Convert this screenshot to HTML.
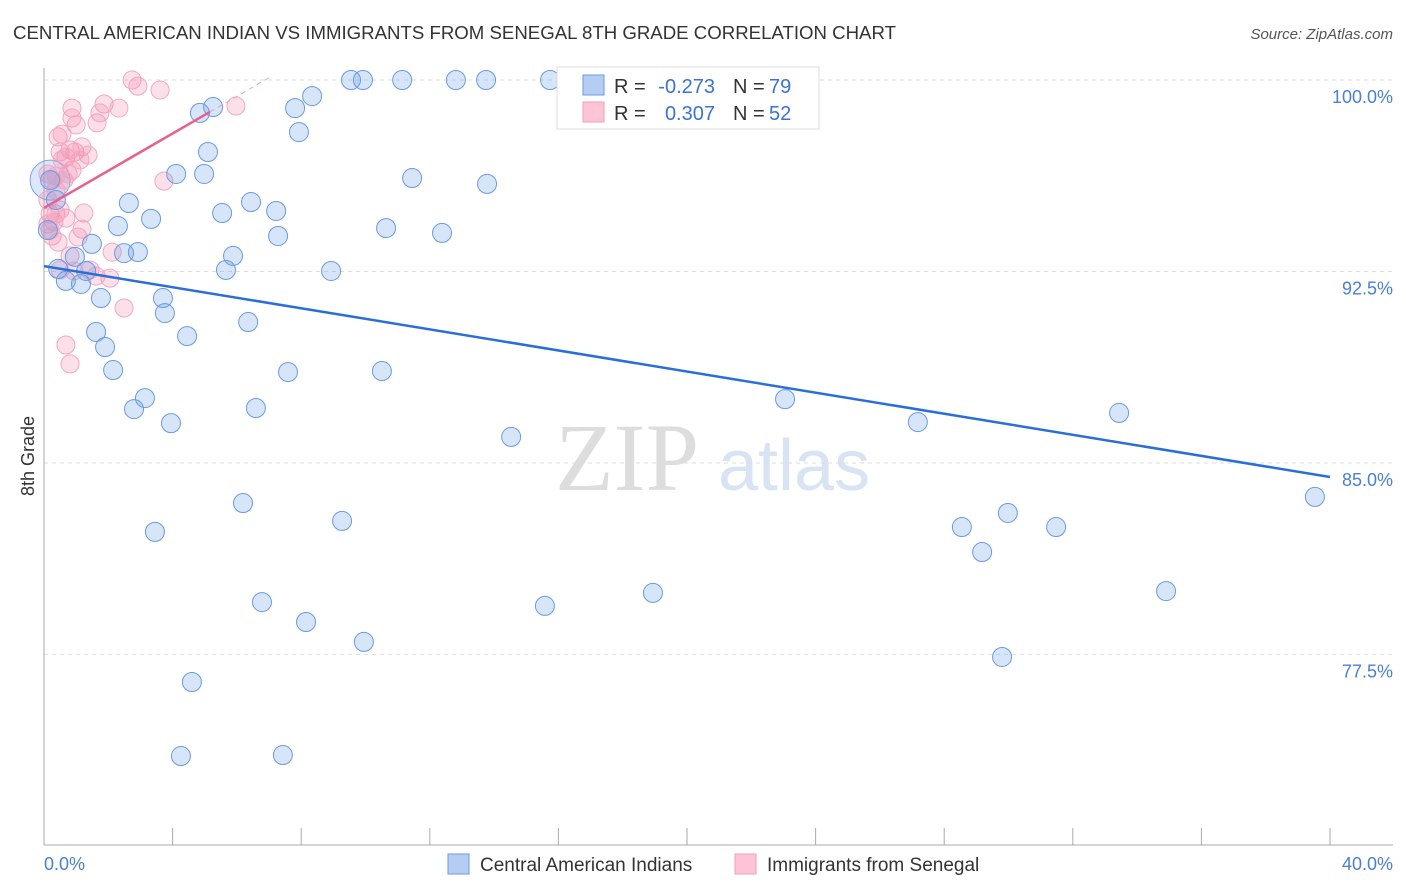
<!DOCTYPE html>
<html><head><meta charset="utf-8"><style>
body{margin:0;background:#fff;font-family:"Liberation Sans",sans-serif;}
svg{display:block}
</style></head><body>
<svg id="chart" width="1406" height="892"></svg>
<script>
const blueX=[9.55,9.92,11.14,12.81,13.75,15.74,17.45,18.16,22.27,16.98,5.26,4.85,7.81,8.34,7.93,5.10,4.11,4.98,11.45,13.78,2.64,6.44,5.54,7.22,3.33,2.30,10.64,12.38,7.28,1.49,2.49,2.92,5.88,0.96,5.66,8.93,0.44,0.68,1.15,1.31,1.77,3.70,3.76,6.35,1.62,4.45,1.90,2.15,7.59,10.51,3.14,2.80,6.59,3.95,14.53,23.05,27.18,33.44,39.53,6.19,3.45,9.27,28.55,29.98,31.48,29.18,34.90,18.94,15.58,6.78,8.15,9.95,29.80,4.60,4.26,7.43,0.19,0.12,0.37];
const blueY=[100,100,100,100,100,100,100,100,100,100,98.94,98.71,98.90,99.37,97.96,97.18,96.32,96.32,96.16,95.93,95.18,95.22,94.79,94.87,94.56,94.28,94.20,94.01,93.89,93.58,93.22,93.26,93.11,93.07,92.56,92.52,92.60,92.13,92.01,92.52,91.46,91.46,90.87,90.52,90.13,89.97,89.54,88.64,88.56,88.60,87.54,87.11,87.15,86.56,86.02,87.50,86.60,86.96,83.67,83.43,82.30,82.73,82.49,83.04,82.49,81.51,79.98,79.91,79.40,79.55,78.77,77.99,77.40,76.42,73.52,73.56,96.08,94.12,95.30];
const pinkX=[2.74,2.92,3.61,0.87,1.87,2.33,1.65,1.00,0.87,0.44,0.56,0.50,0.81,0.96,1.18,1.37,0.68,0.87,0.75,0.25,0.62,0.12,0.37,0.19,0.37,1.24,0.68,0.31,0.12,0.25,0.44,1.18,1.06,0.81,0.93,2.12,2.05,2.49,0.68,0.81,3.73,5.97,0.12,0.50,1.62,1.43,0.56,1.12,1.74,0.37,0.19,0.50];
const pinkY=[100,99.76,99.61,98.90,99.06,98.90,98.32,98.24,98.51,97.77,97.88,97.18,97.26,97.18,97.38,97.06,96.98,96.47,96.32,96.08,96.08,96.32,96.24,94.75,94.75,94.79,94.59,94.44,94.36,93.89,93.65,94.16,93.85,93.11,92.52,93.26,92.24,91.07,89.62,88.88,96.04,98.98,95.30,92.56,92.32,92.56,96.87,96.87,98.71,95.69,94.12,94.91];
const blueTrend=[92.71,84.45];
const pinkTrend=[94.99,98.75];
const yTicks=[100,92.5,85,77.5];
const yTickLabels=["100.0%","92.5%","85.0%","77.5%"];
const xTicks=[0,4,8,12,16,20,24,28,32,36,40];

const NS="http://www.w3.org/2000/svg";
const svg=document.getElementById('chart');
const X0=44,X1=1330,Y100=80,PX=25.53;
const sx=v=>X0+(X1-X0)*v/40;
const sy=v=>Y100+(100-v)*PX;
function mk(tag,attrs,parent){const e=document.createElementNS(NS,tag);for(const k in attrs)e.setAttribute(k,attrs[k]);(parent||svg).appendChild(e);return e;}

let t=mk('text',{x:13,y:39,'font-size':18,fill:'#333',textLength:883,lengthAdjust:'spacingAndGlyphs'});t.textContent="CENTRAL AMERICAN INDIAN VS IMMIGRANTS FROM SENEGAL 8TH GRADE CORRELATION CHART";


t=mk('text',{x:1393,y:39,'font-size':15,fill:'#555','font-style':'italic','text-anchor':'end'});t.textContent="Source: ZipAtlas.com";



t=mk('text',{x:555,y:490,'font-size':96,fill:'#ddd','font-family':'Liberation Serif'});t.textContent="ZIP";


t=mk('text',{x:718,y:490,'font-size':72,fill:'#d8e4f4'});t.textContent="atlas";



yTicks.forEach((v,i)=>{
 let g=mk('line',{x1:X0,x2:1393,y1:sy(v),y2:sy(v),stroke:'#ddd','stroke-dasharray':'4,4'});
 
 
 let l=mk('text',{x:1393,y:sy(v)+23,'font-size':18,fill:'#4a7fd6','text-anchor':'end'});l.textContent=yTickLabels[i];
 
 
});
let a=mk('line',{x1:X0,x2:X0,y1:68,y2:845,stroke:'#aaa'});


a=mk('line',{x1:X0,x2:1393,y1:845,y2:845,stroke:'#aaa'});


xTicks.forEach(v=>{let k=mk('line',{x1:sx(v),x2:sx(v),y1:828,y2:845,stroke:'#aaa'});
 
 });
t=mk('text',{x:44,y:870,'font-size':18,fill:'#4a7fd6'});t.textContent="0.0%";


t=mk('text',{x:1393,y:870,'font-size':18,fill:'#4a7fd6','text-anchor':'end'});t.textContent="40.0%";


t=mk('text',{x:34,y:456,'font-size':18,fill:'#333','text-anchor':'middle',transform:'rotate(-90 34 456)'});t.textContent="8th Grade";



let big=mk('circle',{cx:sx(0.19),cy:sy(96.08),r:20,fill:'rgba(110,160,235,0.25)',stroke:'#7aa4e4','stroke-width':1});


pinkX.forEach((v,i)=>{let c=mk('circle',{cx:sx(v),cy:sy(pinkY[i]),r:9,fill:'rgba(244,143,177,0.28)',stroke:'#f2a8c0','stroke-width':1});
 
 });
blueX.forEach((v,i)=>{let c=mk('circle',{cx:sx(v),cy:sy(blueY[i]),r:9.5,fill:'rgba(110,160,235,0.28)',stroke:'#6a9ae2','stroke-width':1});
 
 });

let tl=mk('line',{x1:sx(0),y1:sy(blueTrend[0]),x2:sx(40),y2:sy(blueTrend[1]),stroke:'#2a6fd6','stroke-width':2.5});


const ps=(pinkTrend[1]-pinkTrend[0])/5.16;
tl=mk('line',{x1:sx(0),y1:sy(pinkTrend[0]),x2:sx(5.16),y2:sy(pinkTrend[1]),stroke:'#e8608f','stroke-width':2.5});


tl=mk('line',{x1:sx(5.16),y1:sy(pinkTrend[1]),x2:sx(7.1),y2:sy(pinkTrend[0]+ps*7.1),stroke:'#f0a0bb','stroke-width':1,'stroke-dasharray':'5,4'});



const lg=mk('g',{});


mk('rect',{x:557,y:67,width:262,height:62,fill:'#fff',stroke:'#ddd'},lg);
mk('rect',{x:583,y:75,width:21,height:20,fill:'#b5cdf3',stroke:'#6a9ae0'},lg);
mk('rect',{x:583,y:102,width:21,height:20,fill:'#fcc5d5',stroke:'#f2a0bb'},lg);
function lt(x,y,s,c,anchor){let e=mk('text',{x:x,y:y,'font-size':20,fill:c,'text-anchor':anchor||'start'},lg);e.textContent=s;return e;}
lt(614,93,"R =","#333");lt(715,93,"-0.273","#3a73d6","end");lt(733,93,"N =","#333");lt(769,93,"79","#3a73d6");
lt(614,120,"R =","#333");lt(715,120,"0.307","#3a73d6","end");lt(733,120,"N =","#333");lt(769,120,"52","#3a73d6");

const bl=mk('g',{});


let r=mk('rect',{x:448,y:854,width:21,height:20,fill:'#b5cdf3',stroke:'#6a9ae0'},bl);


t=mk('text',{x:480,y:871,'font-size':19,fill:'#333'},bl);t.textContent="Central American Indians";


r=mk('rect',{x:735,y:854,width:21,height:20,fill:'#fcc5d5',stroke:'#f2a0bb'},bl);


t=mk('text',{x:767,y:871,'font-size':19,fill:'#333'},bl);t.textContent="Immigrants from Senegal";


</script>
</body></html>
